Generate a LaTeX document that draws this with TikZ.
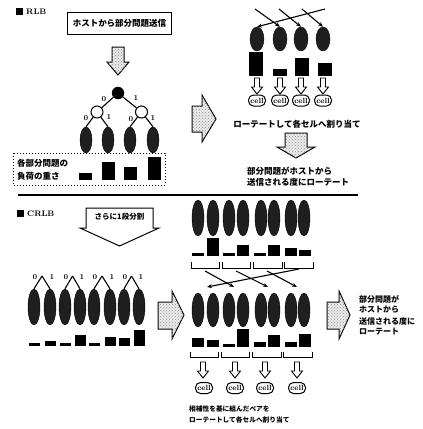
\documentclass[tikz,border=0pt]{standalone}
\usepackage{fontspec}
\newfontfamily\jp{Noto Sans CJK JP}
\usetikzlibrary{shapes.geometric,arrows.meta,patterns}
\begin{document}
\begin{tikzpicture}[x=1pt,y=-1pt,
  leaf/.style={ellipse,draw=black,fill=black!88,inner sep=0pt,minimum width=12pt,minimum height=#1},
  leaf/.default=26pt,
  bigarrow/.style={draw=black,line width=1pt,line join=miter,fill=black!8,postaction={pattern=crosshatch dots,pattern color=black!45}},
  conn/.style={line width=1.1pt},
  rot/.style={line width=1.1pt,-{Stealth[length=5pt,width=4pt]}},
  lab/.style={font=\bfseries\fontsize{7.5}{7.5}\selectfont,inner sep=0pt},
  jtext/.style={font=\jp\bfseries\fontsize{8.5}{10}\selectfont,inner sep=0pt,anchor=west},
  cellnode/.style={draw=black,line width=1pt,rounded corners=5pt,minimum width=17pt,minimum height=11pt,inner sep=0.5pt,font=\bfseries\fontsize{7.5}{7.5}\selectfont},
  bracket/.style={line width=0.9pt},
  sdown/.pic={\draw[fill=white,line width=0.9pt,line join=miter] (-2.5,0) -- (2.5,0) -- (2.5,9) -- (5.5,9) -- (0,16) -- (-5.5,9) -- (-2.5,9) -- cycle;}
]
\useasboundingbox (0,0) rectangle (423,429);

% ================= RLB =================
\fill (16,8) rectangle (23,15);
\node[anchor=west,inner sep=0pt,font=\bfseries\fontsize{8}{8}\selectfont] (rlb) at (26,12) {RLB};

\node[draw=black,line width=1.2pt,minimum width=104pt,minimum height=22pt,inner sep=0pt,font=\jp\bfseries\fontsize{8.5}{10}\selectfont] (host) at (119.5,23.5) {ホストから部分問題送信};

\draw[bigarrow] (112,47) -- (124,47) -- (124,62) -- (129,62) -- (118,75) -- (107,62) -- (112,62) -- cycle;

% tree
\node[circle,fill=black,draw=black,minimum size=12pt,inner sep=0pt] (r) at (118,93) {};
\node[circle,fill=white,draw=black,line width=1pt,minimum size=12pt,inner sep=0pt] (cL) at (97,112) {};
\node[circle,fill=white,draw=black,line width=1pt,minimum size=12pt,inner sep=0pt] (cR) at (141.5,112) {};
\foreach \c [count=\i] in {86,108,130,153} \node[leaf=26pt] (l\i) at (\c,140) {};
\draw[conn] (r) -- (cL);
\draw[conn] (r) -- (cR);
\draw[conn] (cL) -- (l1.north);
\draw[conn] (cL) -- (l2.north);
\draw[conn] (cR) -- (l3.north);
\draw[conn] (cR) -- (l4.north);
\node[lab] (t0) at (104,99) {0};
\node[lab] (t1) at (136,98) {1};
\node[lab] (t2) at (86,118) {0};
\node[lab] (t3) at (109,117) {1};
\node[lab] (t4) at (131,119) {0};
\node[lab] (t5) at (153,118) {1};

% load box
\draw[dotted,line width=1pt] (13,153) rectangle (165,185);
\node[jtext] (load1) at (17,163) {各部分問題の};
\node[jtext] (load2) at (17,176) {負荷の重さ};
\foreach \c/\h in {85/7,108.5/18,130.5/13,154/23} \fill (\c-6.5,180) rectangle (\c+6.5,180-\h);

% middle arrow
\draw[bigarrow] (192,106) -- (202,106) -- (202,95) -- (216,119) -- (202,142) -- (202,132) -- (192,132) -- cycle;

% right RLB
\foreach \c [count=\i] in {257,280,301,323} \node[leaf=24pt,minimum width=14pt] (e\i) at (\c,39) {};
\coordinate (s1) at (255,9);
\coordinate (s2) at (279,9);
\coordinate (s3) at (302,9);
\coordinate (s4) at (325,9);
\draw[rot] (s1) -- (e2.north);
\draw[rot] (s2) -- (e3.north);
\draw[rot] (s3) -- (e4.north);
\draw[rot] (s4) -- (e1.north);
\foreach \c/\h in {256/24,279.5/7,301.5/18,324.5/13} \fill (\c-7,76) rectangle (\c+7,76-\h);
\foreach \c in {257,280,301,323} \pic at (\c,78) {sdown};
\foreach \c [count=\i] in {257,280,301,323} \node[cellnode] (cell\i) at (\c,100.5) {cell};
\node[jtext,anchor=center] (rotA) at (297,124) {ローテートして各セルへ割り当て};
\draw[bigarrow] (285,133) -- (307,133) -- (307,147) -- (315,147) -- (296,158) -- (277,147) -- (285,147) -- cycle;
\node[jtext] (sendA1) at (247,171) {部分問題がホストから};
\node[jtext] (sendA2) at (247,182) {送信される度にローテート};

% separator
\draw[line width=1.6pt] (18,195) -- (358,195);

% ================= CRLB =================
\fill (17,210) rectangle (24,217);
\node[anchor=west,inner sep=0pt,font=\bfseries\fontsize{8}{8}\selectfont] (crlb) at (27,213.5) {CRLB};

\draw[fill=white,line width=1pt,line join=miter] (86,208) -- (153,208) -- (153,228) -- (159,228) -- (119.5,246) -- (80,228) -- (86,228) -- cycle;
\node[font=\jp\bfseries\fontsize{7.5}{9}\selectfont,inner sep=0pt] (split) at (119.5,217) {さらに1段分割};

% left pairs
\foreach \c [count=\i] in {34,50,65,80,94,110,124,139} \node[leaf=36pt] (p\i) at (\c,307) {};
\foreach \a/\i/\j in {42/1/2,72.5/3/4,102/5/6,131.5/7/8} {
  \coordinate (ap\i) at (\a,276);
  \draw[conn] (ap\i) -- (p\i.north);
  \draw[conn] (ap\i) -- (p\j.north);
}
\foreach \c/\d [count=\i] in {34/50,65/80,94/110,124/139} {
  \node[lab] (zero\i) at (\c+1,277) {0};
  \node[lab] (one\i) at (\d+2,277) {1};
}
\foreach \c/\h in {34/3,50/5,65/3,80/11,94/3,110/9,124/8,139/16} \fill (\c-5.5,346) rectangle (\c+5.5,346-\h);

\draw[bigarrow] (158,302) -- (172,302) -- (172,291) -- (184,315) -- (172,339) -- (172,329) -- (158,329) -- cycle;

% middle top
\foreach \c [count=\i] in {198,213,229,243,261,274,291,304} \node[leaf=36pt] (m\i) at (\c,218) {};
\foreach \c/\h in {198/3,213/18,229/3,243/11,260/3,274/11,291/8,305/6} \fill (\c-6,256) rectangle (\c+6,256-\h);
\foreach \a/\b in {191/219,222/250,253/282,284/313} \draw[bracket] (\a,262) -- (\a,268) -- (\b,268) -- (\b,262);

% middle bottom
\foreach \c [count=\i] in {198,213,229,243,261,274,291,304} \node[leaf=34pt] (n\i) at (\c,310) {};
\coordinate (q1) at (205,271);
\coordinate (q2) at (236,271);
\coordinate (q3) at (267,271);
\coordinate (q4) at (299,269);
\coordinate (g1) at (207,287);
\coordinate (g2) at (234,287);
\coordinate (g3) at (268,287);
\coordinate (g4) at (297,287);
\draw[rot] (q1) -- (g2);
\draw[rot] (q2) -- (g3);
\draw[rot] (q3) -- (g4);
\draw[rot] (q4) -- (g1);
\foreach \c/\h in {198/9,213/7,229/3,243/18,260/5,274/12,291/5,305/13} \fill (\c-6,347) rectangle (\c+6,347-\h);
\foreach \a/\b in {190/218,221/249,252/281,283/312} \draw[bracket] (\a,352) -- (\a,357) -- (\b,357) -- (\b,352);
\foreach \c in {203,235,265,297} \pic at (\c,362) {sdown};
\foreach \c [count=\i] in {204,235,265,297} \node[cellnode] (ccell\i) at (\c,388) {cell};

\draw[bigarrow] (327,302) -- (339,302) -- (339,291) -- (350,315) -- (339,339) -- (339,329) -- (327,329) -- cycle;

\node[jtext,font=\jp\bfseries\fontsize{8}{10}\selectfont] (sendB1) at (359,299) {部分問題が};
\node[jtext,font=\jp\bfseries\fontsize{8}{10}\selectfont] (sendB2) at (359,310) {ホストから};
\node[jtext,font=\jp\bfseries\fontsize{8}{10}\selectfont] (sendB3) at (359,321) {送信される度に};
\node[jtext,font=\jp\bfseries\fontsize{8}{10}\selectfont] (sendB4) at (359,332) {ローテート};

\node[jtext,font=\jp\bfseries\fontsize{6.7}{8}\selectfont] (pairA) at (189,409) {相補性を基に組んだペアを};
\node[jtext,font=\jp\bfseries\fontsize{6.7}{8}\selectfont] (pairB) at (189,420) {ローテートして各セルへ割り当て};
\end{tikzpicture}
\end{document}
